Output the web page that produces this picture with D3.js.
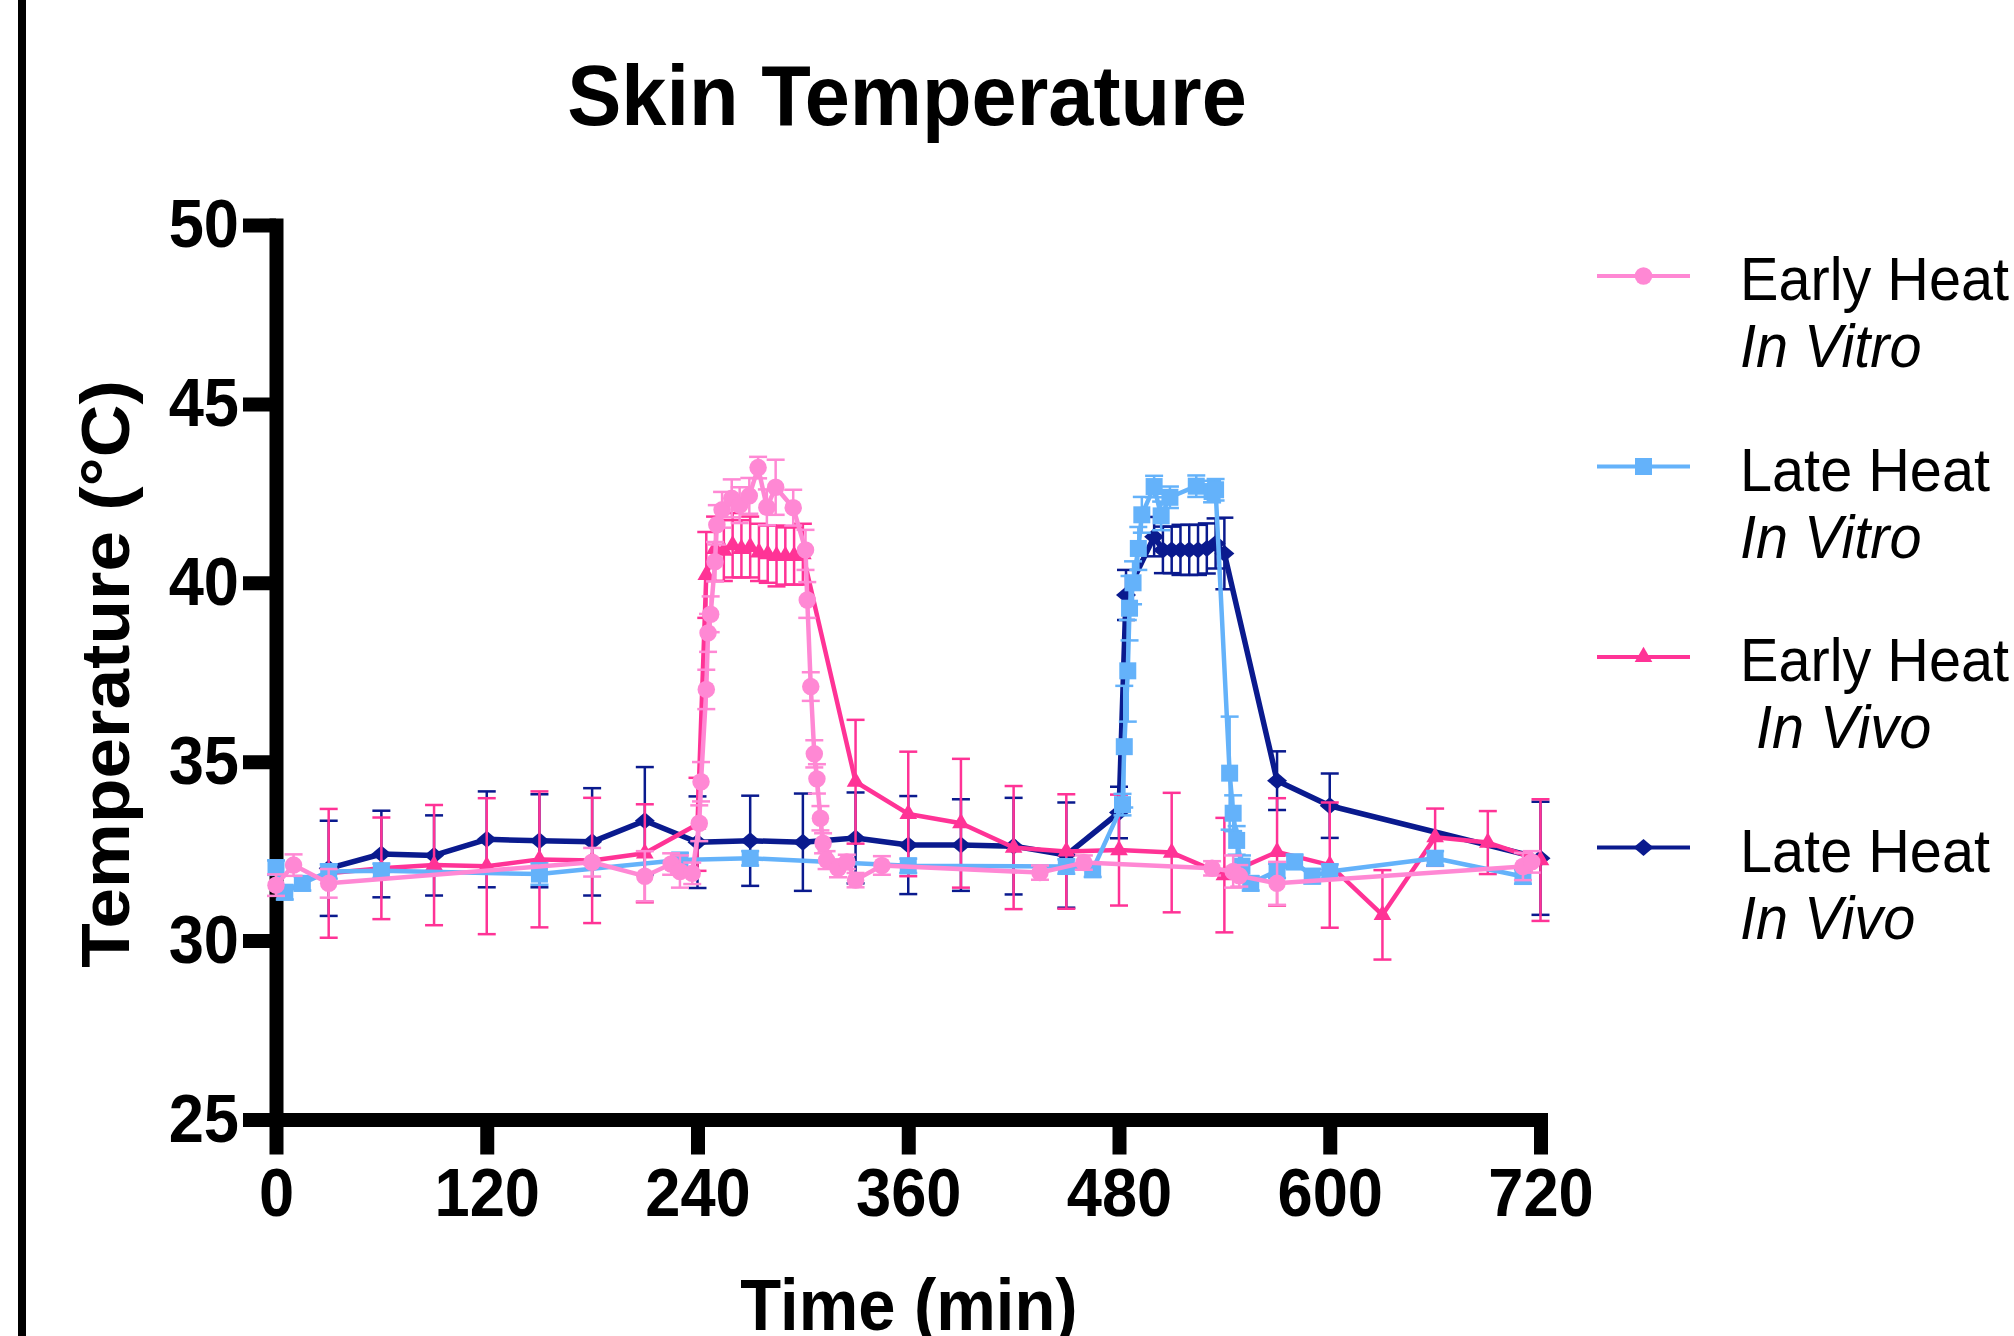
<!DOCTYPE html>
<html>
<head>
<meta charset="utf-8">
<script src="https://cdn.jsdelivr.net/npm/d3@7"></script>
<style>
html, body { margin: 0; padding: 0; background: #fff; }
svg { display: block; font-family: "Liberation Sans", Arial, sans-serif; }
</style>
</head>
<body>
<svg id="chart"></svg>
<script>
// values (minutes, mean °C, SD)
const earlyVitroTime = [0, 10, 30, 180, 210, 225, 230, 237, 241, 242, 245, 246, 247.5, 250, 251, 254, 259.5, 264, 269.5, 274.5, 279.5, 284.5, 294.5, 301.5, 302.5, 304.5, 306.5, 308, 310, 311.5, 313.5, 320, 325, 330, 345, 435, 460, 533, 545, 548.5, 570, 710, 715]
const earlyVitroMean = [31.55, 32.11, 31.6, 32.19, 31.8, 32.14, 31.93, 31.88, 33.28, 34.44, 37.02, 38.6, 39.12, 40.59, 41.62, 42.04, 42.36, 42.17, 42.43, 43.22, 42.11, 42.67, 42.1, 40.92, 39.52, 37.1, 35.22, 34.52, 33.42, 32.72, 32.25, 32.02, 32.2, 31.69, 32.1, 31.9, 32.18, 32.02, 31.93, 31.81, 31.6, 32.07, 32.2]
const earlyVitroSD = [0.3, 0.3, 0.4, 0.4, 0.7, 0.3, 0.45, 0.3, 0.5, 0.55, 0.55, 0.53, 0.5, 0.55, 0.55, 0.5, 0.53, 0.5, 0.5, 0.3, 0.5, 0.77, 0.5, 0.56, 0.5, 0.4, 0.38, 0.41, 0.34, 0.28, 0.25, 0.25, 0.2, 0.2, 0.26, 0.2, 0.2, 0.2, 0.45, 0.3, 0.6, 0.38, 0.3]

const lateVitroTime = [0, 5, 15, 30, 60, 150, 230, 270, 360, 450, 465, 482, 483, 485, 486, 488, 491, 493, 500, 504, 509, 524, 533, 535, 543, 545, 547, 550, 555, 570, 580, 590, 600, 660, 710]
const lateVitroMean = [32.04, 31.35, 31.6, 31.93, 31.95, 31.86, 32.25, 32.3, 32.09, 32.07, 31.98, 33.8, 35.42, 37.54, 39.29, 40.0, 40.96, 41.9, 42.69, 41.87, 42.39, 42.7, 42.55, 42.6, 34.68, 33.56, 32.8, 32.08, 31.6, 31.95, 32.2, 31.8, 31.93, 32.3, 31.79]
const lateVitroSD = [0.2, 0.2, 0.2, 0.2, 0.2, 0.3, 0.2, 0.2, 0.2, 0.2, 0.2, 0.3, 1.7, 1.42, 0.9, 0.6, 0.6, 0.5, 0.3, 0.4, 0.3, 0.3, 0.3, 0.3, 1.58, 0.5, 0.4, 0.3, 0.2, 0.2, 0.2, 0.2, 0.2, 0.2, 0.2]

const earlyVivoTime = [30, 60, 90, 120, 150, 180, 210, 240, 245, 250, 255, 260, 265, 270, 275, 280, 285, 290, 295, 300, 330, 360, 390, 420, 450, 480, 510, 540, 570, 600, 630, 660, 690, 720]
const earlyVivoMean = [31.88, 32.02, 32.11, 32.08, 32.27, 32.24, 32.44, 33.25, 40.22, 40.95, 40.9, 41.05, 40.95, 41.0, 40.85, 40.8, 40.75, 40.75, 40.75, 40.8, 34.44, 33.54, 33.28, 32.6, 32.49, 32.53, 32.46, 31.83, 32.48, 32.11, 30.72, 32.89, 32.74, 32.25]
const earlyVivoSD = [1.8, 1.42, 1.68, 1.9, 1.9, 1.75, 1.37, 1.3, 1.2, 0.9, 0.85, 0.9, 0.8, 0.85, 0.8, 0.8, 0.85, 0.8, 0.8, 0.85, 1.73, 1.74, 1.8, 1.72, 1.6, 1.55, 1.67, 1.6, 1.5, 1.75, 1.25, 0.8, 0.88, 1.7]

const lateVivoTime = [30, 60, 90, 120, 150, 180, 210, 240, 270, 300, 330, 360, 390, 420, 450, 480, 484, 500, 505, 510, 515, 520, 525, 530, 535, 540, 570, 600, 720]
const lateVivoMean = [32.02, 32.42, 32.38, 32.83, 32.79, 32.76, 33.35, 32.75, 32.79, 32.75, 32.87, 32.67, 32.67, 32.64, 32.39, 33.58, 39.66, 41.29, 40.92, 40.92, 40.92, 40.92, 40.92, 40.96, 41.1, 40.82, 34.47, 33.77, 32.3]
const lateVivoSD = [1.33, 1.21, 1.12, 1.34, 1.3, 1.5, 1.5, 1.28, 1.26, 1.36, 1.27, 1.37, 1.28, 1.35, 1.47, 0.72, 0.7, 0.55, 0.65, 0.65, 0.7, 0.7, 0.7, 0.7, 0.7, 1.0, 0.82, 0.9, 1.58]

const xTicks = [0, 120, 240, 360, 480, 600, 720]
const yTicks = [25, 30, 35, 40, 45, 50]
const legendLine1 = ["Early Heat", "Late Heat", "Early Heat", "Late Heat"]
const legendLine2 = ["In Vitro", "In Vitro", "\u00a0In Vivo", "In Vivo"]

const series = [
    {time: earlyVitroTime, mean: earlyVitroMean, sd: earlyVitroSD, color: "#FF88D4", shape: "circle", lw: 4.5},
    {time: lateVitroTime, mean: lateVitroMean, sd: lateVitroSD, color: "#64B2FA", shape: "square", lw: 4.5},
    {time: earlyVivoTime, mean: earlyVivoMean, sd: earlyVivoSD, color: "#FF3396", shape: "triangle", lw: 4.5},
    {time: lateVivoTime, mean: lateVivoMean, sd: lateVivoSD, color: "#0A1A8E", shape: "diamond", lw: 5.5}
]

const SX = 0.93 // the original glyphs are slightly narrow
const width = 2014, height = 1336

const x = d3.scaleLinear().domain([0, 720]).range([276, 1540.5])
const y = d3.scaleLinear().domain([25, 50]).range([1119.5, 225])

const markerPath = {
    circle: d3.symbol(d3.symbolCircle, 240)(),
    square: d3.symbol(d3.symbolSquare, 289)(),
    triangle: d3.symbol(d3.symbolTriangle, 135)(),
    diamond: "M-10,0L0,-8.5L10,0L0,8.5Z"
}

const svg = d3.select("svg#chart")
    .attr("width", width)
    .attr("height", height)

svg.append("rect")
    .attr("x", 18).attr("y", 0)
    .attr("width", 8).attr("height", height)
    .attr("fill", "#000")

svg.append("text")
    .attr("transform", "translate(907,125) scale(0.955,1)")
    .attr("text-anchor", "middle")
    .attr("font-size", 85)
    .attr("font-weight", "bold")
    .text("Skin Temperature")

const styleTicks = g => g.selectAll(".tick text")
    .attr("font-size", 68)
    .attr("font-weight", "bold")
    .attr("fill", "#000")
    .attr("transform", `scale(${SX},1)`)

const yAxis = g => g
    .attr("transform", `translate(${x(0)},0)`)
    .call(d3.axisLeft(y).tickValues(yTicks).tickSize(33).tickPadding(4).tickSizeOuter(0))
    .call(g => g.select(".domain").attr("stroke-width", 14).attr("stroke-linecap", "square"))
    .call(g => g.selectAll(".tick line").attr("stroke-width", 14))
    .call(styleTicks)
    .call(g => g.selectAll(".tick text").attr("x", -37 / SX))

const xAxis = g => g
    .attr("transform", `translate(0,${y(25)})`)
    .call(d3.axisBottom(x).tickValues(xTicks).tickSize(35).tickPadding(13).tickSizeOuter(0))
    .call(g => g.select(".domain").attr("stroke-width", 14).attr("stroke-linecap", "square"))
    .call(g => g.selectAll(".tick line").attr("stroke-width", 14))
    .call(styleTicks)

svg.append("g").call(xAxis)
svg.append("g").call(yAxis)

svg.append("text")
    .attr("transform", `translate(909,1330) scale(${SX},1)`)
    .attr("text-anchor", "middle")
    .attr("font-size", 72)
    .attr("font-weight", "bold")
    .text("Time (min)")

svg.append("text")
    .attr("transform", `translate(129,674) scale(${SX},1) rotate(-90)`)
    .attr("text-anchor", "middle")
    .attr("font-size", 73)
    .attr("font-weight", "bold")
    .text("Temperature (°C)")

// series, last one drawn first so the light pink sits on top
const plot = svg.append("g")
series.slice().reverse().forEach(s => {
    const idx = d3.range(s.time.length)
    const g = plot.append("g").attr("stroke", s.color).attr("fill", s.color)

    const eb = g.append("g").attr("stroke-width", 2.5)
        .selectAll("g").data(idx).join("g")
    eb.append("line")
        .attr("x1", i => x(s.time[i])).attr("x2", i => x(s.time[i]))
        .attr("y1", i => y(s.mean[i] - s.sd[i])).attr("y2", i => y(s.mean[i] + s.sd[i]))
    ;[-1, 1].forEach(sign => {
        eb.append("line")
            .attr("x1", i => x(s.time[i]) - 9).attr("x2", i => x(s.time[i]) + 9)
            .attr("y1", i => y(s.mean[i] + sign * s.sd[i]))
            .attr("y2", i => y(s.mean[i] + sign * s.sd[i]))
    })

    g.append("path")
        .attr("fill", "none")
        .attr("stroke-width", s.lw)
        .attr("stroke-linejoin", "round")
        .attr("d", d3.line().x(i => x(s.time[i])).y(i => y(s.mean[i]))(idx))

    g.append("g").attr("stroke", "none")
        .selectAll("path").data(idx).join("path")
        .attr("transform", i => `translate(${x(s.time[i])},${y(s.mean[i])})`)
        .attr("d", markerPath[s.shape])
})

// legend
const legend = svg.append("g")
    .selectAll("g").data(series).join("g")
    .attr("transform", (d, i) => `translate(0,${276 + i * 190.5})`)

legend.append("line")
    .attr("x1", 1597).attr("x2", 1690)
    .attr("stroke", d => d.color)
    .attr("stroke-width", 4)
legend.append("path")
    .attr("transform", "translate(1643.5,0)")
    .attr("fill", d => d.color)
    .attr("d", d => markerPath[d.shape])
legend.append("text")
    .attr("transform", `translate(1740,24) scale(${SX},1)`)
    .attr("font-size", 62)
    .text((d, i) => legendLine1[i])
legend.append("text")
    .attr("transform", `translate(1740,91) scale(${SX},1)`)
    .attr("font-size", 62)
    .attr("font-style", "italic")
    .text((d, i) => legendLine2[i])
</script>
</body>
</html>
